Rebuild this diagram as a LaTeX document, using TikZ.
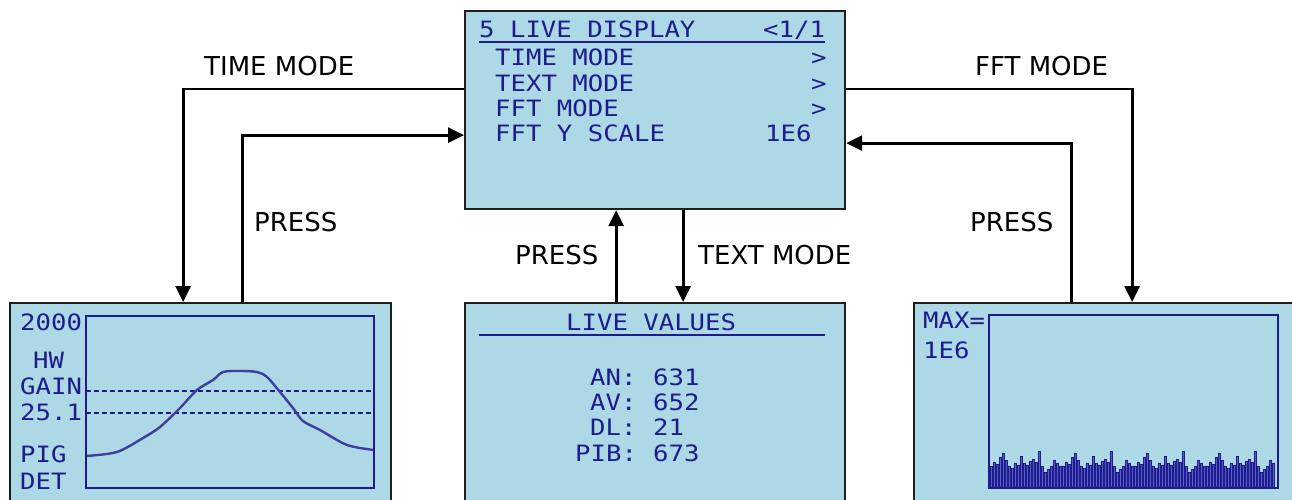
\documentclass[tikz,border=0pt]{standalone}
\usepackage{fontspec}
\setmainfont{DejaVu Sans}
\newfontfamily\lcdfont[FakeStretch=1.14]{DejaVu Sans Mono}
\usetikzlibrary{arrows.meta}
\definecolor{lcdbg}{RGB}{173,216,230}
\definecolor{lcdink}{RGB}{28,28,140}
\definecolor{barfill}{RGB}{90,90,200}
\definecolor{boxline}{RGB}{30,30,30}
\begin{document}
\begin{tikzpicture}[x=1pt,y=-1pt,
  lcdbox/.style={draw=boxline, line width=2.2pt, fill=lcdbg, inner sep=0pt, anchor=north west},
  conn/.style={line width=2.8pt, black, -{Triangle[length=16pt,width=15pt]}},
  lcdtxt/.style={font=\lcdfont\fontsize{22.5}{22.5}\selectfont, text=lcdink, anchor=base west, inner sep=0pt},
  lbl/.style={font=\fontsize{26}{26}\selectfont, anchor=base west, inner sep=0pt},
  frame/.style={draw=lcdink, line width=2.4pt},
  uline/.style={draw=lcdink, line width=2pt}]
\useasboundingbox (0,0) rectangle (1292,500);
% boxes
\node[lcdbox, minimum width=380pt, minimum height=198pt] (top) at (464,10) {};
\node[lcdbox, minimum width=381pt, minimum height=210pt] (lft) at (9,302) {};
\node[lcdbox, minimum width=380pt, minimum height=210pt] (mid) at (464,302) {};
\node[lcdbox, minimum width=400pt, minimum height=210pt] (rgt) at (913,302) {};
% top box text
\node[lcdtxt] (h1) at (479,38) {5 LIVE DISPLAY};
\node[lcdtxt] (h2) at (763,38) {<1/1};
\draw[uline] (479,42) -- (825,42);
\node[lcdtxt] (r1) at (495,66) {TIME MODE};
\node[lcdtxt] (r1a) at (811,66) {>};
\node[lcdtxt] (r2) at (495,92) {TEXT MODE};
\node[lcdtxt] (r2a) at (811,92) {>};
\node[lcdtxt] (r3) at (495,117) {FFT MODE};
\node[lcdtxt] (r3a) at (811,117) {>};
\node[lcdtxt] (r4) at (495,142) {FFT Y SCALE};
\node[lcdtxt] (r4a) at (765,142) {1E6};
% middle box
\node[lcdtxt] (m0) at (566,330) {LIVE VALUES};
\draw[uline] (479,335) -- (825,335);
\node[lcdtxt] (m1) at (590,385) {AN:};
\node[lcdtxt] (m1v) at (653,385) {631};
\node[lcdtxt] (m2) at (590,410) {AV:};
\node[lcdtxt] (m2v) at (653,410) {652};
\node[lcdtxt] (m3) at (590,435) {DL:};
\node[lcdtxt] (m3v) at (653,435) {21};
\node[lcdtxt] (m4) at (575,461) {PIB:};
\node[lcdtxt] (m4v) at (653,461) {673};
% left box
\node[lcdtxt] (l1) at (20,330) {2000};
\node[lcdtxt] (l2) at (33,368) {HW};
\node[lcdtxt] (l3) at (20,394) {GAIN};
\node[lcdtxt] (l4) at (20,420) {25.1};
\node[lcdtxt] (l5) at (20,462) {PIG};
\node[lcdtxt] (l6) at (20,489) {DET};
\draw[lcdink, line width=1.8pt, dash pattern=on 5pt off 3pt] (86,391) -- (374,391);
\draw[lcdink, line width=1.8pt, dash pattern=on 5pt off 3pt] (86,413) -- (374,413);
\begin{scope}
\clip (86,316) rectangle (374,488);
\draw[lcdink!85!white, line width=2.4pt, line join=round] plot[smooth, tension=0.5] coordinates {
 (86,456) (117,452) (143,438) (160,427) (180,408) (197,390) (213,380) (223,372)
 (240,371) (257,372) (267,377) (280,392) (293,408) (303,421) (320,430) (347,445) (374,450)};
\end{scope}
\draw[frame] (86,316) rectangle (374,488);
% right box
\node[lcdtxt] (q1) at (923,328) {MAX=};
\node[lcdtxt] (q2) at (923,358) {1E6};
\foreach \i in {0,...,94} {
  \pgfmathsetmacro{\hh}{{21,25,23,30,34,27,21,19,24,22,31,24,22,26,28,25,36,21,15,18,21,27,24,21}[mod(\i,24)]}
  \pgfmathsetmacro{\xx}{990.5+3*\i}
  \filldraw[fill=barfill, draw=lcdink, line width=0.6pt] (\xx,487) rectangle ++(2.2,-\hh);
}
\draw[frame] (989,315) rectangle (1278,488);
% connectors
\draw[conn] ([yshift=21pt]top.west) -| ([xshift=-17.5pt]lft.north);
\draw[conn] ([xshift=41.5pt]lft.north) |- ([yshift=-25pt]top.west);
\draw[conn] ([xshift=-39pt]mid.north) -- ([xshift=-39pt]top.south);
\draw[conn] ([xshift=28pt]top.south) -- ([xshift=28pt]mid.north);
\draw[conn] ([yshift=21pt]top.east) -| ([xshift=18pt]rgt.north);
\draw[conn] ([xshift=-43pt]rgt.north) |- ([yshift=-33pt]top.east);
% labels
\node[lbl] (a1) at (204,76) {TIME MODE};
\node[lbl] (a2) at (254,231) {PRESS};
\node[lbl] (a3) at (515,264) {PRESS};
\node[lbl] (a4) at (698,264) {TEXT MODE};
\node[lbl] (a5) at (975,76) {FFT MODE};
\node[lbl] (a6) at (970,231) {PRESS};
\end{tikzpicture}
\end{document}
